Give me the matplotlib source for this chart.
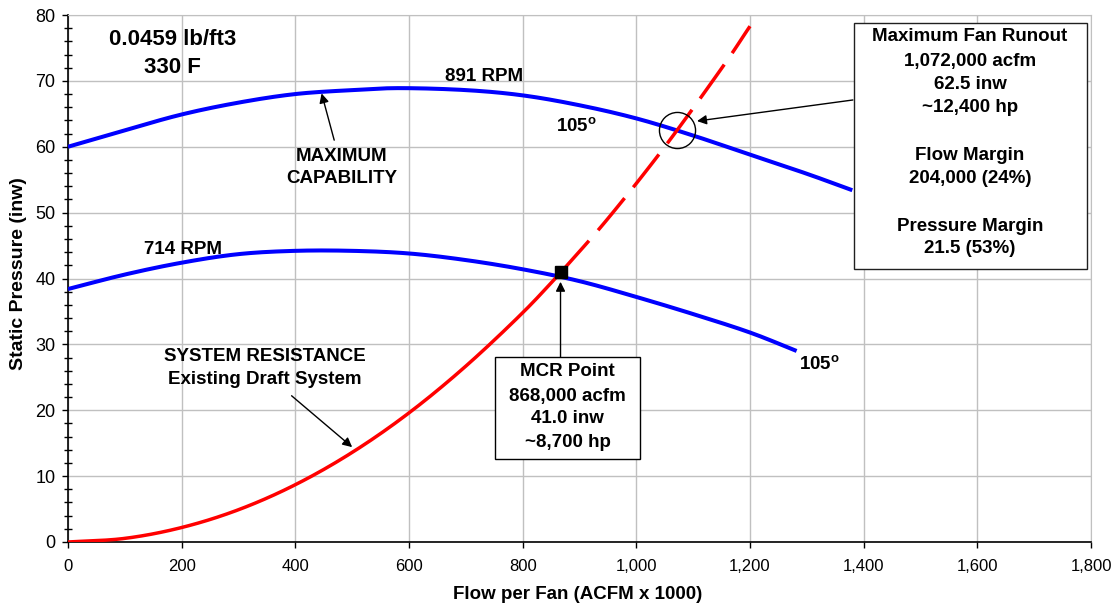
import numpy as np
import matplotlib
matplotlib.use("Agg")
import matplotlib.pyplot as plt
from matplotlib.patches import Rectangle
from matplotlib.ticker import MultipleLocator, FuncFormatter

plt.rcParams['font.family'] = ['Liberation Sans', 'DejaVu Sans']
plt.rcParams['mathtext.fontset'] = 'custom'
plt.rcParams['mathtext.rm'] = 'Liberation Sans:bold'
plt.rcParams['mathtext.it'] = 'Liberation Sans:bold'
plt.rcParams['mathtext.bf'] = 'Liberation Sans:bold'

# ---------------- data ----------------
rpm891_x = [0, 100, 200, 300, 400, 500, 584, 700, 800, 900, 1000, 1100, 1200, 1300, 1380]
rpm891_y = [60.0, 62.5, 64.9, 66.7, 68.0, 68.6, 68.9, 68.6, 67.8, 66.3, 64.3, 61.7, 58.8, 55.9, 53.4]

rpm714_x = [0, 100, 200, 300, 400, 500, 600, 700, 800, 900, 1000, 1100, 1200, 1282]
rpm714_y = [38.4, 40.6, 42.4, 43.7, 44.2, 44.2, 43.8, 42.8, 41.4, 39.6, 37.2, 34.6, 31.8, 29.0]

sys_x = [0, 100, 200, 300, 400, 500, 600, 700, 800, 868]
sys_y = [0.0, 0.55, 2.2, 4.9, 8.7, 13.6, 19.6, 26.7, 34.8, 41.0]

sys_ext_x = [868, 950, 1050, 1150, 1200]
sys_ext_y = [41.0, 49.1, 60.0, 71.9, 78.3]

mcr_point = (868, 41.0)
runout_point = (1072, 62.5)

x_ticks = [0, 200, 400, 600, 800, 1000, 1200, 1400, 1600, 1800]
y_ticks = [0, 10, 20, 30, 40, 50, 60, 70, 80]

mcr_lines = ["MCR Point", "868,000 acfm", "41.0 inw", "~8,700 hp"]
runout_lines = ["Maximum Fan Runout", "1,072,000 acfm", "62.5 inw", "~12,400 hp",
                "Flow Margin", "204,000 (24%)", "Pressure Margin", "21.5 (53%)"]


def catmull(xs, ys, n=24):
    P = np.column_stack([xs, ys]).astype(float)
    P = np.vstack([2 * P[0] - P[1], P, 2 * P[-1] - P[-2]])
    out = []
    t = np.linspace(0, 1, n, endpoint=False)[:, None]
    for i in range(1, len(P) - 2):
        p0, p1, p2, p3 = P[i - 1], P[i], P[i + 1], P[i + 2]
        seg = 0.5 * ((2 * p1) + (-p0 + p2) * t + (2 * p0 - 5 * p1 + 4 * p2 - p3) * t ** 2
                     + (-p0 + 3 * p1 - 3 * p2 + p3) * t ** 3)
        out.append(seg)
    out.append(P[-2][None])
    s = np.vstack(out)
    return s[:, 0], s[:, 1]


W, H = 1114, 606
fig = plt.figure(figsize=(W / 100, H / 100), dpi=100)
L, R, T, B = 68, 1091, 15, 542
ax = fig.add_axes([L / W, 1 - B / H, (R - L) / W, (B - T) / H])

ax.set_xlim(0, 1800)
ax.set_ylim(0, 80)
ax.set_xticks(x_ticks)
ax.set_yticks(y_ticks)
ax.yaxis.set_minor_locator(MultipleLocator(2))
ax.xaxis.set_major_formatter(FuncFormatter(lambda v, p: f"{int(v):,}"))
ax.grid(True, which='major', color='#c0c0c0', lw=1.0, zorder=0)
ax.set_axisbelow(True)
for s in ['top', 'right']:
    ax.spines[s].set_color('#c0c0c0')
for s in ['left', 'bottom']:
    ax.spines[s].set_color('black')
    ax.spines[s].set_linewidth(1.2)
ax.tick_params(axis='both', which='major', direction='out', length=4, width=1, colors='black')
ax.tick_params(axis='x', which='major', labelsize=12, pad=8)
ax.tick_params(axis='y', which='major', labelsize=13, pad=5)
ax.tick_params(axis='y', which='minor', direction='inout', length=6, width=1)

# curves
x, y = catmull(rpm891_x, rpm891_y)
ax.plot(x, y, color='#0000FF', lw=2.9, zorder=3, solid_capstyle='butt')
x, y = catmull(rpm714_x, rpm714_y)
ax.plot(x, y, color='#0000FF', lw=2.9, zorder=3, solid_capstyle='butt')
x, y = catmull(sys_x, sys_y)
ax.plot(x, y, color='#FF0000', lw=2.5, zorder=4, solid_capstyle='butt')
x, y = catmull(sys_ext_x, sys_ext_y)
ax.plot(x, y, color='#FF0000', lw=2.5, zorder=4, linestyle=(0, (12, 4)), dash_capstyle='butt')

# markers
ax.plot([mcr_point[0]], [mcr_point[1]], marker='s', ms=9, color='black', zorder=6, ls='none')
ax.plot([runout_point[0]], [runout_point[1]], marker='o', ms=26, mfc='none', mec='black',
        mew=1.0, zorder=6, ls='none')

bold = dict(fontweight='bold', color='black')
fs = 13.5

ax.text(183.8, 75.45, "0.0459 lb/ft3", ha='center', va='baseline', fontsize=16, **bold)
ax.text(183.8, 71.15, "330 F", ha='center', va='baseline', fontsize=16, **bold)
ax.text(732.6, 70.03, "891 RPM", ha='center', va='baseline', fontsize=fs, **bold)
ax.text(202, 43.67, "714 RPM", ha='center', va='baseline', fontsize=fs, **bold)
ax.text(859.5, 62.39, r"105$^\mathrm{o}$", ha='left', va='baseline', fontsize=fs, **bold)
ax.text(1285.6, 26.2, r"105$^\mathrm{o}$", ha='left', va='baseline', fontsize=fs, **bold)
ax.text(481.4, 57.88, "MAXIMUM", ha='center', va='baseline', fontsize=fs, **bold)
ax.text(481.4, 54.55, "CAPABILITY", ha='center', va='baseline', fontsize=fs, **bold)
ax.text(347, 27.48, "SYSTEM RESISTANCE", ha='center', va='baseline', fontsize=fs, **bold)
ax.text(347, 23.94, "Existing Draft System", ha='center', va='baseline', fontsize=fs, **bold)

arrow = dict(arrowstyle='-|>', color='black', lw=1.0, mutation_scale=14, shrinkA=0, shrinkB=0)
ax.annotate('', xy=(446.2, 68.1), xytext=(468.4, 61.0), arrowprops=arrow, zorder=5)
ax.annotate('', xy=(500, 14.4), xytext=(393.4, 22.2), arrowprops=arrow, zorder=5)
ax.annotate('', xy=(866.6, 39.5), xytext=(866.6, 28.04), arrowprops=arrow, zorder=5)
ax.annotate('', xy=(1106.8, 63.9), xytext=(1381, 67.1), arrowprops=arrow, zorder=5)

# MCR box
ax.add_patch(Rectangle((751.0, 12.55), 1007.3 - 751.0, 28.04 - 12.55, facecolor='white',
                       edgecolor='black', lw=1.0, zorder=7))
for txt, yy in zip(mcr_lines, [25.2, 21.45, 18.0, 14.47]):
    ax.text(879.1, yy, txt, ha='center', va='baseline', fontsize=fs, zorder=8, **bold)

# Runout box
ax.add_patch(Rectangle((1382.4, 41.44), 1792.2 - 1382.4, 78.83 - 41.44, facecolor='white',
                       edgecolor='#202020', lw=1.0, zorder=7))
for txt, yy in zip(runout_lines, [76.05, 72.3, 68.7, 65.27, 57.94, 54.5, 47.2, 43.8]):
    ax.text(1587.3, yy, txt, ha='center', va='baseline', fontsize=fs, zorder=8, **bold)

fig.text(577.5 / W, 1 - 599.3 / H, "Flow per Fan (ACFM x 1000)", ha='center', va='baseline',
         fontsize=13.5, **bold)
fig.text(18.8 / W, 1 - 273.7 / H, "Static Pressure (inw)", ha='center', va='center',
         rotation=90, fontsize=14, **bold)

fig.savefig("out.png", dpi=100)
